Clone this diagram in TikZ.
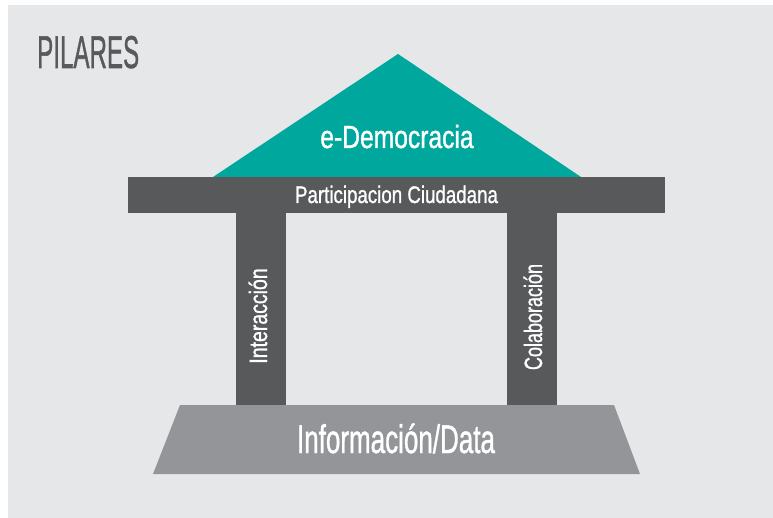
\documentclass[tikz,border=0pt]{standalone}
\usepackage{fontspec}
\setmainfont{Liberation Sans}
\newfontfamily\medfont[FakeBold=1.2]{Liberation Sans}
\usepackage{graphicx}
\definecolor{bgcol}{HTML}{E6E7E8}
\definecolor{darkcol}{HTML}{58595B}
\definecolor{roofcol}{HTML}{00A79D}
\definecolor{basecol}{HTML}{939598}
\newcommand{\cond}[3]{\scalebox{#1}[1]{\medfont\fontsize{#2}{#2}\selectfont #3}}
\tikzset{
  lbl/.style={inner sep=0pt, text=white},
}
\begin{document}
\begin{tikzpicture}[x=1pt,y=-1pt]
\useasboundingbox (0,0) rectangle (773,518);
\fill[white] (0,0) rectangle (773,518);
\fill[bgcol] (8,5) rectangle (773,518);
% roof
\fill[roofcol] (213,177) -- (398,54) -- (581,177) -- cycle;
% pillars
\fill[darkcol] (236,210) rectangle (286,406);
\fill[darkcol] (507,210) rectangle (557,406);
% beam
\fill[darkcol] (128,177) rectangle (665,213);
% base
\fill[basecol] (180,405) -- (614,405) -- (640,474) -- (153,474) -- cycle;
% texts
\node[inner sep=0pt, text=darkcol, anchor=base west] (title) at (37,68) {\cond{0.525}{46}{PILARES}};
\node[lbl, anchor=base] (roof) at (397,148) {\cond{0.77}{32}{e-Democracia}};
\node[lbl, anchor=base] (beam) at (396.5,203) {\cond{0.78}{24}{Participacion Ciudadana}};
\node[lbl, anchor=base] (base) at (396,453) {\cond{0.65}{40}{Información/Data}};
\node[lbl, anchor=base, rotate=90] (left) at (267,316) {\cond{0.78}{25}{Interacción}};
\node[lbl, anchor=base, rotate=90] (right) at (542,317) {\cond{0.72}{25}{Colaboración}};
\end{tikzpicture}
\end{document}
